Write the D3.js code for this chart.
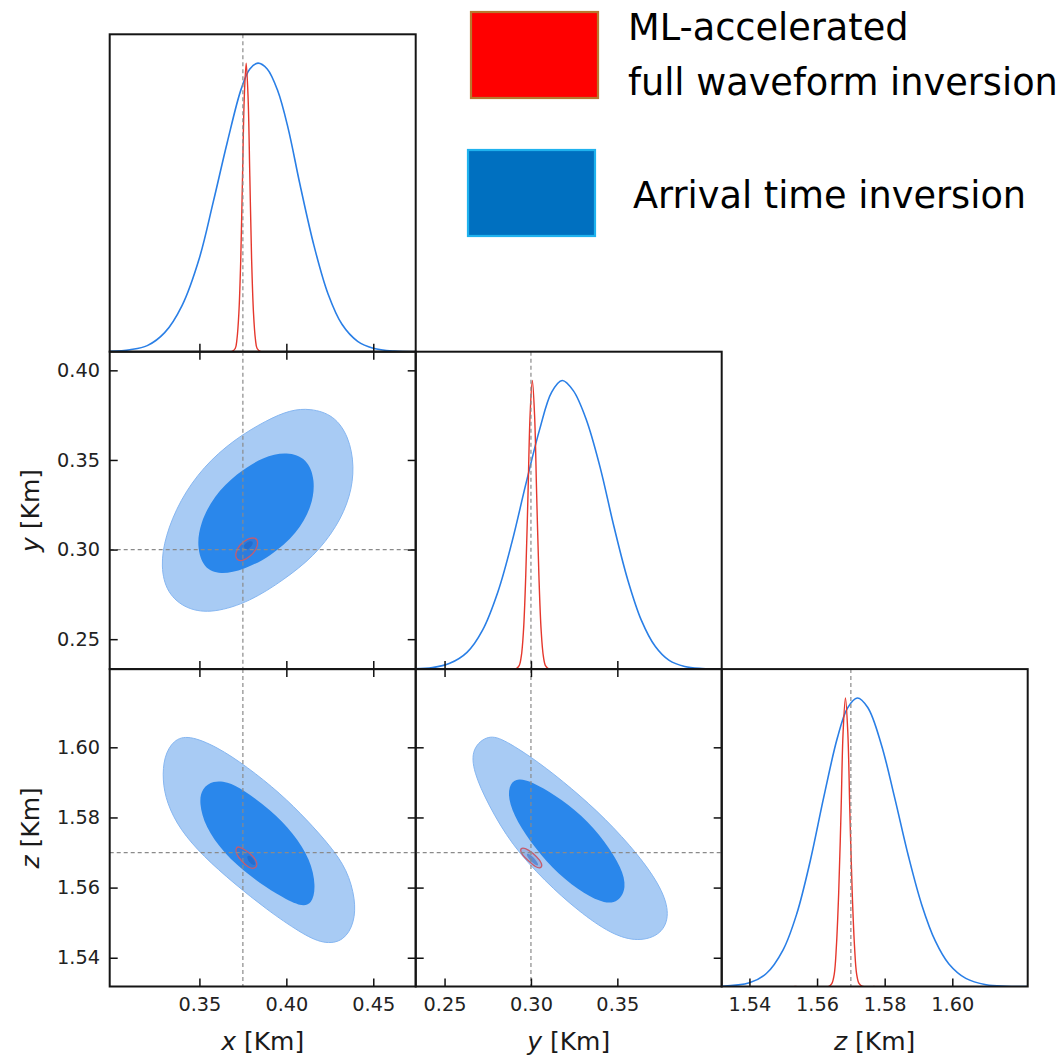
<!DOCTYPE html>
<html>
<head>
<meta charset="utf-8">
<script src="https://d3js.org/d3.v7.min.js"></script>
<style>
  body { margin: 0; background: white; }
  svg text { font-family: "DejaVu Sans", sans-serif; }
</style>
</head>
<body>
<svg id="chart" width="1061" height="1058"></svg>
<script>
// parameters, axis ranges and truth values
var params = ['x', 'y', 'z'];
var ranges = {x: [0.2984, 0.4744], y: [0.2333, 0.4104], z: [1.5318, 1.6223]};
var truth = {x: 0.375, y: 0.30, z: 1.57};

// tick values (horizontal axes are pruned near the edge)
var ticksH = {x: [0.35, 0.40, 0.45], y: [0.25, 0.30, 0.35], z: [1.54, 1.56, 1.58, 1.60]};
var ticksV = {y: [0.25, 0.30, 0.35, 0.40], z: [1.54, 1.56, 1.58, 1.60]};

// 1d marginals [value, normalised density]
var blueX = [[0.2985,0.001],[0.3100,0.007],[0.3200,0.021],[0.3300,0.066],[0.3400,0.160],[0.3500,0.325],
    [0.3580,0.520],[0.3660,0.725],[0.3740,0.910],[0.3790,0.980],[0.3837,1.0],[0.3890,0.980],[0.3950,0.905],
    [0.4010,0.775],[0.4080,0.575],[0.4160,0.365],[0.4240,0.200],[0.4320,0.095],[0.4410,0.036],[0.4500,0.012],
    [0.4620,0.002],[0.4744,0.0]];
var redX = [[0.3600,0],[0.3685,0],[0.3706,0.011],[0.3716,0.044],[0.3727,0.135],[0.3738,0.325],[0.3748,0.607],
    [0.3758,0.88],[0.3769,1.0],[0.3780,0.88],[0.3790,0.607],[0.3800,0.325],[0.3811,0.135],[0.3822,0.044],
    [0.3832,0.011],[0.3853,0],[0.3950,0]];
var blueY = [[0.2328,0.001],[0.2430,0.005],[0.2530,0.020],[0.2630,0.058],[0.2720,0.135],[0.2810,0.270],
    [0.2890,0.440],[0.2970,0.640],[0.3050,0.830],[0.3120,0.960],[0.3181,1.0],[0.3245,0.965],[0.3320,0.865],
    [0.3400,0.700],[0.3480,0.495],[0.3560,0.310],[0.3640,0.168],[0.3720,0.078],[0.3800,0.030],[0.3890,0.009],
    [0.3990,0.002],[0.4104,0.0]];
var redY = [[0.2500,0],[0.2910,0],[0.2931,0.011],[0.2944,0.044],[0.2957,0.135],[0.2970,0.325],[0.2983,0.607],
    [0.2995,0.88],[0.3008,1.0],[0.3021,0.88],[0.3033,0.607],[0.3046,0.325],[0.3059,0.135],[0.3072,0.044],
    [0.3085,0.011],[0.3105,0],[0.3350,0]];
var blueZ = [[1.5318,0.001],[1.5400,0.013],[1.5450,0.045],[1.5500,0.128],[1.5540,0.252],[1.5580,0.436],
    [1.5620,0.657],[1.5660,0.861],[1.5690,0.965],[1.5719,1.0],[1.5750,0.967],[1.5790,0.839],[1.5830,0.652],
    [1.5870,0.453],[1.5910,0.282],[1.5950,0.157],[1.5990,0.078],[1.6040,0.028],[1.6100,0.006],[1.6160,0.001],
    [1.6223,0.0]];
var redZ = [[1.5533,0],[1.5635,0],[1.5644,0.011],[1.5651,0.044],[1.5657,0.135],[1.5664,0.325],[1.5671,0.607],
    [1.5677,0.88],[1.5684,1.0],[1.5691,0.88],[1.5697,0.607],[1.5704,0.325],[1.5711,0.135],[1.5717,0.044],
    [1.5724,0.011],[1.5735,0],[1.5770,0]];

// 2d contours [horizontal value, vertical value]
var blueXYOuter = [[0.4138,0.3788],[0.4273,0.3751],[0.4360,0.3630],[0.4392,0.3463],[0.4369,0.3296],[0.4292,0.3128],
    [0.4158,0.2961],[0.3985,0.2831],[0.3792,0.2710],[0.3581,0.2645],[0.3427,0.2664],[0.3312,0.2757],[0.3277,0.2905],
    [0.3302,0.3072],[0.3388,0.3277],[0.3523,0.3463],[0.3696,0.3612],[0.3888,0.3723],[0.4023,0.3779]];
var blueXYInner = [[0.4004,0.3546],[0.4119,0.3509],[0.4167,0.3388],[0.4148,0.3240],[0.4062,0.3091],[0.3908,0.2961],
    [0.3754,0.2887],[0.3619,0.2859],[0.3523,0.2896],[0.3485,0.3017],[0.3504,0.3147],[0.3581,0.3296],[0.3715,0.3426],
    [0.3869,0.3519]];
var redXYOuter = [[0.3821,0.3069],[0.3840,0.3045],[0.3827,0.2998],[0.3792,0.2961],[0.3744,0.2933],[0.3711,0.2943],
    [0.3706,0.2980],[0.3730,0.3026],[0.3773,0.3060]];
var redXYInner = [[0.3760,0.3005],[0.3753,0.3022],[0.3772,0.3042],[0.3800,0.3050],[0.3811,0.3038],[0.3795,0.3012],
    [0.3775,0.2999]];

var blueXZOuter = [[0.3437,1.6035],[0.3350,1.6021],[0.3296,1.5973],[0.3287,1.5907],[0.3312,1.5841],[0.3388,1.5765],
    [0.3523,1.5689],[0.3696,1.5613],[0.3888,1.5537],[0.4081,1.5471],[0.4215,1.5438],[0.4331,1.5447],[0.4392,1.5500],
    [0.4398,1.5566],[0.4350,1.5651],[0.4254,1.5718],[0.4119,1.5793],[0.3965,1.5869],[0.3773,1.5945],[0.3600,1.6002]];
var blueXZInner = [[0.3581,1.5905],[0.3513,1.5883],[0.3498,1.5841],[0.3533,1.5774],[0.3638,1.5699],[0.3792,1.5632],
    [0.3946,1.5580],[0.4081,1.5545],[0.4148,1.5552],[0.4171,1.5604],[0.4138,1.5680],[0.4042,1.5755],[0.3908,1.5822],
    [0.3754,1.5879],[0.3658,1.5902]];
var redXZOuter = [[0.3725,1.5718],[0.3763,1.5708],[0.3812,1.5689],[0.3837,1.5668],[0.3821,1.5653],[0.3783,1.5656],
    [0.3744,1.5675],[0.3712,1.5694],[0.3708,1.5713]];
var redXZInner = [[0.3770,1.5690],[0.3790,1.5693],[0.3815,1.5678],[0.3825,1.5666],[0.3808,1.5663],[0.3785,1.5672]];

var blueYZOuter = [[0.2753,1.6037],[0.2849,1.6021],[0.3042,1.5959],[0.3236,1.5883],[0.3429,1.5798],[0.3622,1.5694],
    [0.3757,1.5599],[0.3805,1.5523],[0.3757,1.5466],[0.3622,1.5445],[0.3467,1.5466],[0.3274,1.5533],[0.3081,1.5618],
    [0.2888,1.5722],[0.2753,1.5836],[0.2666,1.5931],[0.2656,1.5997]];
var blueYZInner = [[0.2927,1.5912],[0.3004,1.5902],[0.3139,1.5864],[0.3293,1.5808],[0.3429,1.5732],[0.3525,1.5656],
    [0.3554,1.5599],[0.3506,1.5559],[0.3429,1.5554],[0.3313,1.5580],[0.3158,1.5637],[0.3023,1.5713],[0.2917,1.5789],
    [0.2865,1.5855],[0.2878,1.5898]];
var redYZOuter = [[0.2950,1.5715],[0.2985,1.5708],[0.3033,1.5689],[0.3068,1.5667],[0.3058,1.5654],[0.3027,1.5658],
    [0.2988,1.5675],[0.2950,1.5692],[0.2936,1.5708]];
var redYZInner = [[0.2975,1.5700],[0.3010,1.5690],[0.3045,1.5668],[0.3040,1.5660],[0.3005,1.5672],[0.2975,1.5690]];

// lookups used by the panel loop
var marginals = {
    x: {blue: blueX, red: redX},
    y: {blue: blueY, red: redY},
    z: {blue: blueZ, red: redZ}
};
var contours = {
    'x-y': {blueOuter: blueXYOuter, blueInner: blueXYInner, redOuter: redXYOuter, redInner: redXYInner},
    'x-z': {blueOuter: blueXZOuter, blueInner: blueXZInner, redOuter: redXZOuter, redInner: redXZInner},
    'y-z': {blueOuter: blueYZOuter, blueInner: blueYZInner, redOuter: redYZOuter, redInner: redYZInner}
};

// legend entries
var legendLines = [['ML-accelerated', 'full waveform inversion'], ['Arrival time inversion']];

// colours
var blueLine = '#2a7fe6', redLine = '#e5372c';
var lightBlue = '#a8cbf4', darkBlue = '#2a87eb';

// grid layout (window.top is read-only, so use other names)
var gridLeft = 109.7, gridTop = 34.3, W = 306, H = 317.4;
var svg = d3.select('#chart');
var format = d3.format('.2f');

function hScale(p) { return d3.scaleLinear().domain(ranges[p]).range([0, W]); }
function vScale(p) { return d3.scaleLinear().domain(ranges[p]).range([H, 0]); }

// inward ticks, optional labels
function addAxis(g, axisFn, scale, values, transform, labelled) {
    var axis = axisFn(scale).tickValues(values).tickSize(-8)
        .tickPadding(axisFn === d3.axisBottom ? 10.5 : 9.7)
        .tickFormat(labelled ? format : '');
    var a = g.append('g').attr('transform', transform).call(axis);
    a.select('.domain').remove();
    a.selectAll('line').attr('stroke', '#111').attr('stroke-width', 1.5);
    a.selectAll('text').attr('font-size', '19.3px').attr('fill', '#222')
        .attr('font-family', '"DejaVu Sans", sans-serif');
}

params.forEach(function (py, i) {
    params.forEach(function (px, j) {
        if (j > i) return;
        var g = svg.append('g').attr('transform', `translate(${gridLeft + j * W},${gridTop + i * H})`);
        var clipId = `clip-${i}-${j}`;
        g.append('clipPath').attr('id', clipId).append('rect').attr('width', W).attr('height', H);
        var body = g.append('g').attr('clip-path', `url(#${clipId})`);
        var xs = hScale(px);

        if (i == j) {
            // 1d marginal density
            var ds = d3.scaleLinear().domain([0, 1.1]).range([H, 0]);
            var line = d3.line().x(d => xs(d[0])).y(d => ds(d[1])).curve(d3.curveCatmullRom.alpha(0.5));
            body.append('path').datum(marginals[px].blue).attr('d', line)
                .attr('fill', 'none').attr('stroke', blueLine).attr('stroke-width', 1.6);
            body.append('path').datum(marginals[px].red).attr('d', line)
                .attr('fill', 'none').attr('stroke', redLine).attr('stroke-width', 1.4);
        } else {
            // 2d contours
            var ys = vScale(py);
            var set = contours[px + '-' + py];
            var shape = d3.line().x(d => xs(d[0])).y(d => ys(d[1])).curve(d3.curveBasisClosed);
            body.append('path').attr('d', shape(set.blueOuter))
                .attr('fill', lightBlue).attr('stroke', '#86b6f0').attr('stroke-width', 1);
            body.append('path').attr('d', shape(set.blueInner)).attr('fill', darkBlue);
            body.append('path').attr('d', shape(set.redOuter))
                .attr('fill', 'rgba(60,70,150,0.16)').attr('stroke', '#c65c6e').attr('stroke-width', 1.3);
            body.append('path').attr('d', shape(set.redInner)).attr('fill', 'rgba(25,90,190,0.45)');
            body.append('line').attr('x1', 0).attr('x2', W).attr('y1', ys(truth[py])).attr('y2', ys(truth[py]))
                .attr('stroke', '#8a8a8a').attr('stroke-width', 1.2).attr('stroke-dasharray', '4,3');
        }

        // truth marker
        body.append('line').attr('x1', xs(truth[px])).attr('x2', xs(truth[px])).attr('y1', 0).attr('y2', H)
            .attr('stroke', '#8a8a8a').attr('stroke-width', 1.2).attr('stroke-dasharray', '4,3');

        // ticks
        addAxis(g, d3.axisBottom, xs, ticksH[px], `translate(0,${H})`, i == 2);
        if (i != j) {
            var ysT = vScale(py);
            addAxis(g, d3.axisTop, xs, ticksH[px], 'translate(0,0)', false);
            addAxis(g, d3.axisLeft, ysT, ticksV[py], 'translate(0,0)', j == 0);
            addAxis(g, d3.axisRight, ysT, ticksV[py], `translate(${W},0)`, false);
        }

        // frame
        g.append('rect').attr('width', W).attr('height', H)
            .attr('fill', 'none').attr('stroke', '#151515').attr('stroke-width', 2);
    });
});

// axis titles
function title(sel, name) {
    sel.append('tspan').attr('font-style', 'italic').text(name);
    sel.append('tspan').text(' [Km]');
}
params.forEach(function (p, k) {
    svg.append('text').attr('x', gridLeft + (k + 0.5) * W).attr('y', 1050)
        .attr('text-anchor', 'middle').attr('font-size', '25px').attr('fill', '#1a1a1a')
        .call(title, p);
    if (k > 0) {
        var cy = gridTop + (k + 0.5) * H;
        svg.append('text').attr('transform', `translate(39,${cy}) rotate(-90)`)
            .attr('text-anchor', 'middle').attr('font-size', '25px').attr('fill', '#1a1a1a')
            .call(title, p);
    }
});

// legend
var legend = svg.append('g');
legend.append('rect').attr('x', 471).attr('y', 12).attr('width', 127).attr('height', 86)
    .attr('fill', '#ff0000').attr('stroke', '#b8782e').attr('stroke-width', 2.2);
legend.append('rect').attr('x', 468).attr('y', 150).attr('width', 127).attr('height', 86)
    .attr('fill', '#0070c0').attr('stroke', '#1fb2ee').attr('stroke-width', 2.2);

var legendFont = '"Lato", "Open Sans", sans-serif';
var lineSpots = [[[628, 40], [628, 95]], [[633, 208]]];
var texts = [];
legendLines.forEach(function (lines, e) {
    lines.forEach(function (s, k) {
        var t = legend.append('text').attr('x', lineSpots[e][k][0]).attr('y', lineSpots[e][k][1])
            .attr('font-family', legendFont).attr('font-size', '40px').attr('fill', '#000').text(s);
        texts.push(t);
    });
});
// fit legend font to the reference width of the longest line
var widest = texts[1].node().getComputedTextLength();
var size = 40 * 430 / widest;
texts.forEach(function (t) { t.attr('font-size', size + 'px'); });
</script>
</body>
</html>
